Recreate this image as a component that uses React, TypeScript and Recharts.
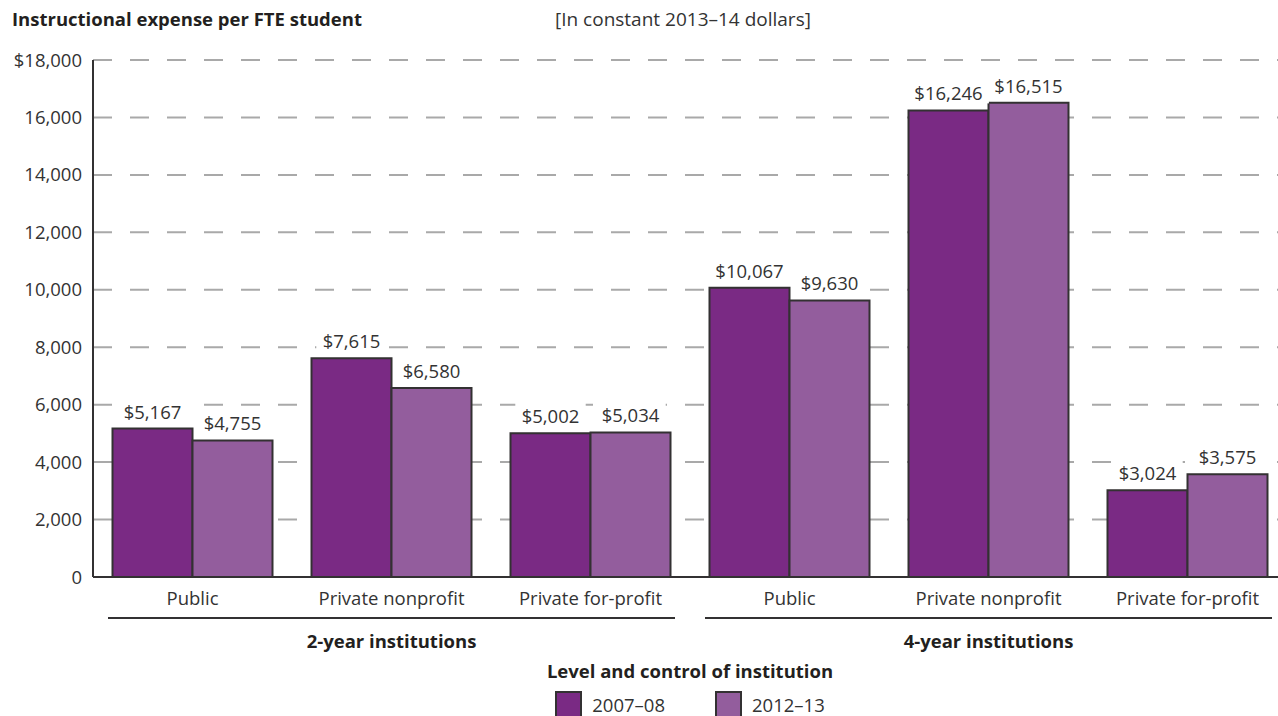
import { BarChart, Bar, XAxis, YAxis, CartesianGrid, LabelList, Legend } from "recharts";

const controls = ["Public", "Private nonprofit", "Private for-profit", "Public", "Private nonprofit", "Private for-profit"];
const levels = [
  "2-year institutions",
  "2-year institutions",
  "2-year institutions",
  "4-year institutions",
  "4-year institutions",
  "4-year institutions",
];
const expense0708 = [5167, 7615, 5002, 10067, 16246, 3024];
const expense1213 = [4755, 6580, 5034, 9630, 16515, 3575];
const yTicks = [0, 2000, 4000, 6000, 8000, 10000, 12000, 14000, 16000, 18000];

const data = controls.map((control, i) => ({
  control,
  level: levels[i],
  y0708: expense0708[i],
  y1213: expense1213[i],
}));

const FONT = "'Open Sans', sans-serif";
const TEXT = "#333333";
const DARK = "#7a2a84";
const LIGHT = "#935d9d";
const EDGE = "#333132";
const FS = 18.5;

const CHART_W = 1300;
const PLOT_LEFT = 93;
const PLOT_RIGHT = 13;
const GROUPS = 2;
const groupBand = (CHART_W - PLOT_LEFT - PLOT_RIGHT) / GROUPS;

const money = (v: number) => (v === 0 ? "0" : v === 18000 ? "$" + v.toLocaleString("en-US") : v.toLocaleString("en-US"));

// value label with a white backing so gridlines break around it
const ValueLabel = (props: any) => {
  const { x, y, width, value } = props;
  const cx = x + width / 2;
  const text = "$" + Number(value).toLocaleString("en-US");
  const w = text.length * 10.4 + 8;
  return (
    <g>
      <rect x={cx - w / 2} y={y - 31} width={w} height={24} fill="#fff" />
      <text x={cx} y={y - 10} textAnchor="middle" fill={TEXT} fontSize={FS} fontFamily={FONT}>
        {text}
      </text>
    </g>
  );
};

const GroupTick = (props: any) => {
  const { x, y, payload } = props;
  const half = groupBand / 2 - 15;
  return (
    <g>
      <line x1={x - half} x2={x + half} y1={y - 1} y2={y - 1} stroke={EDGE} strokeWidth={2} />
      <text x={x} y={y + 29} textAnchor="middle" fill="#231f20" fontSize={FS} fontWeight={700} fontFamily={FONT}>
        {payload.value}
      </text>
    </g>
  );
};

const renderLegend = (props: any) => {
  const { payload } = props;
  return (
    <div style={{ height: 60, textAlign: "center", fontFamily: FONT, color: "#231f20" }}>
      <div style={{ fontSize: FS, fontWeight: 700, lineHeight: "22px", paddingTop: 4 }}>
        Level and control of institution
      </div>
      <div style={{ display: "flex", justifyContent: "center", gap: 50, marginTop: 9 }}>
        {(payload || []).map((entry: any) => (
          <div key={entry.value} style={{ display: "flex", alignItems: "flex-start" }}>
            <span
              style={{
                display: "inline-block",
                width: 23,
                height: 23,
                background: entry.color,
                border: `2px solid ${EDGE}`,
                marginRight: 10,
              }}
            />
            <span style={{ fontSize: FS, color: TEXT, lineHeight: "28px" }}>{entry.value}</span>
          </div>
        ))}
      </div>
    </div>
  );
};

export default function App() {
  return (
    <div style={{ position: "absolute", left: 0, top: 0, width: 1278, height: 716, overflow: "hidden", background: "#fff" }}>
      <div
        style={{
          position: "absolute",
          left: 12,
          top: 8,
          fontFamily: FONT,
          fontSize: FS,
          fontWeight: 700,
          lineHeight: "22px",
          color: "#231f20",
        }}
      >
        Instructional expense per FTE student
      </div>
      <div
        style={{
          position: "absolute",
          left: 555,
          top: 8,
          fontFamily: FONT,
          fontSize: 19,
          lineHeight: "22px",
          color: TEXT,
        }}
      >
        [In constant 2013–14 dollars]
      </div>
      <BarChart
        width={CHART_W}
        height={716}
        data={data}
        margin={{ top: 60, right: PLOT_RIGHT, bottom: 0, left: 0 }}
        barCategoryGap={19.5}
        barGap={0}
      >
        <CartesianGrid vertical={false} stroke="#a9a9a9" strokeWidth={2} strokeDasharray="19 18" />
        <YAxis
          width={PLOT_LEFT}
          domain={[0, 18000]}
          ticks={yTicks}
          interval={0}
          tickFormatter={money}
          tickLine={false}
          tickSize={9}
          axisLine={{ stroke: EDGE, strokeWidth: 2 }}
          tick={{ fill: TEXT, fontSize: FS, fontFamily: FONT }}
        />
        <XAxis
          dataKey="control"
          xAxisId={0}
          height={40}
          interval={0}
          tickLine={false}
          tickSize={13}
          axisLine={{ stroke: EDGE, strokeWidth: 2 }}
          tick={{ fill: TEXT, fontSize: FS, fontFamily: FONT }}
        />
        <XAxis
          dataKey="level"
          xAxisId="group"
          height={39}
          interval={0}
          allowDuplicatedCategory={false}
          axisLine={false}
          tickLine={false}
          tickSize={0}
          tick={<GroupTick />}
        />
        <Legend verticalAlign="bottom" content={renderLegend} wrapperStyle={{ left: PLOT_LEFT, width: 1194 }} />
        <Bar dataKey="y0708" name="2007–08" fill={DARK} stroke={EDGE} strokeWidth={2} isAnimationActive={false}>
          <LabelList dataKey="y0708" content={<ValueLabel />} />
        </Bar>
        <Bar dataKey="y1213" name="2012–13" fill={LIGHT} stroke={EDGE} strokeWidth={2} isAnimationActive={false}>
          <LabelList dataKey="y1213" content={<ValueLabel />} />
        </Bar>
      </BarChart>
    </div>
  );
}
